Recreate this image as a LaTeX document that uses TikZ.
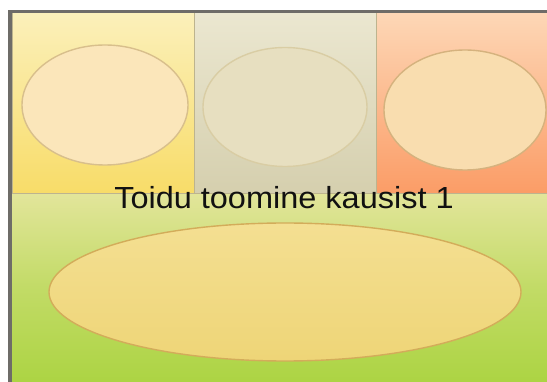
\documentclass[tikz,border=0pt]{standalone}
\usepackage{fontspec}
\setmainfont{Liberation Sans}
\usetikzlibrary{shapes.geometric}
\definecolor{ytop}{HTML}{FBF0BA}
\definecolor{ybot}{HTML}{F8DC68}
\definecolor{gtop}{HTML}{EBE7D0}
\definecolor{gbot}{HTML}{D5CFAE}
\definecolor{otop}{HTML}{FDD7B6}
\definecolor{obot}{HTML}{FB9C66}
\definecolor{ntop}{HTML}{E2E59A}
\definecolor{nbot}{HTML}{ACD443}
\definecolor{frame}{HTML}{6E6C68}
\definecolor{divline}{HTML}{BDB48E}
\definecolor{e1line}{HTML}{D8BF8C}
\definecolor{e1fill}{HTML}{FBE6BA}
\definecolor{e2line}{HTML}{D9CDA4}
\definecolor{e2fill}{HTML}{E7DFC0}
\definecolor{e3line}{HTML}{D5B27E}
\definecolor{e3fill}{HTML}{F9DDAF}
\definecolor{e4line}{HTML}{D3AC5A}
\definecolor{e4top}{HTML}{F4DF92}
\definecolor{e4bot}{HTML}{EED577}
\definecolor{ink}{HTML}{111111}
\tikzset{
  panel/.style={draw=divline, line width=1pt},
  oval/.style={ellipse, draw=#1, line width=1.4pt, inner sep=0pt},
}
\begin{document}
\begin{tikzpicture}[x=1pt,y=-1pt]
\useasboundingbox (0,0) rectangle (547,382);
\fill[white] (0,0) rectangle (547,382);
% green bottom panel
\path[top color=ntop, bottom color=nbot, middle color=ntop!40!nbot] (12,194) rectangle (548,383);
% top panels
\path[panel, top color=ytop, bottom color=ybot] (12,13) rectangle (194,194);
\path[panel, top color=gtop, bottom color=gbot] (194,13) rectangle (376,194);
\path[panel, top color=otop, bottom color=obot] (376,13) rectangle (548,194);
% frame
\draw[frame, line width=3.5pt] (10,383) -- (10,11.5) -- (548,11.5);
% ellipses
\node[oval=e1line, fill=e1fill, minimum width=166pt, minimum height=120pt] (e1) at (105,105) {};
\node[oval=e2line, fill=e2fill, minimum width=164pt, minimum height=119pt] (e2) at (285,107) {};
\node[oval=e3line, fill=e3fill, minimum width=162pt, minimum height=120pt] (e3) at (465,110) {};
\node[oval=e4line, top color=e4top, bottom color=e4bot, minimum width=472pt, minimum height=138pt] (e4) at (285,292) {};
% title
\node[font=\fontsize{30.5}{34}\selectfont, text=ink, anchor=base, inner sep=0pt, xscale=1.065] (title) at (284,209) {Toidu toomine kausist 1};
\end{tikzpicture}
\end{document}
